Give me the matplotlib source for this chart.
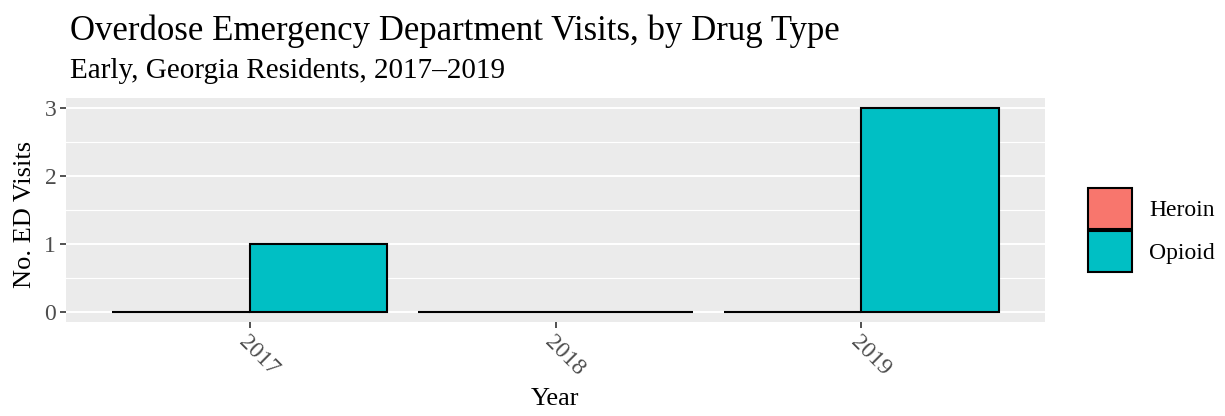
import numpy as np
import matplotlib
matplotlib.use('Agg')
import matplotlib.pyplot as plt
from matplotlib.patches import Patch

plt.rcParams['font.family'] = ['Liberation Serif', 'DejaVu Serif']

years = ['2017', '2018', '2019']
drugs = ['Heroin', 'Opioid']
heroin = [0, 0, 0]
opioid = [1, 0, 3]
colors = {'Heroin': '#F8766D', 'Opioid': '#00BFC4'}

W, H = 1225, 416
fig = plt.figure(figsize=(W / 100, H / 100), dpi=100)
ax = fig.add_axes([66 / W, 1 - 322 / H, (1045 - 66) / W, (322 - 98) / H])
ax.set_facecolor('#EBEBEB')

x = np.arange(len(years)) + 1
bw = 0.45
for i, (name, vals) in enumerate(zip(drugs, [heroin, opioid])):
    ax.bar(x + (i - 0.5) * bw, vals, width=bw, color=colors[name],
           edgecolor='black', linewidth=1.5, zorder=3)

ax.set_xlim(0.4, 3.6)
ax.set_ylim(-0.15, 3.15)
ax.set_yticks([0, 1, 2, 3])
ax.set_yticks([0.5, 1.5, 2.5], minor=True)
ax.grid(axis='y', which='major', color='white', linewidth=1.4, zorder=0)
ax.grid(axis='y', which='minor', color='white', linewidth=0.8, zorder=0)
ax.set_axisbelow(True)
ax.set_xticks(x)
ax.set_xticklabels(years, rotation=-45, ha='left', va='top', rotation_mode='anchor')
for s in ax.spines.values():
    s.set_visible(False)
ax.tick_params(axis='both', which='major', length=4, width=1.2, color='#333333',
               labelcolor='#4D4D4D', labelsize=17, pad=3)
ax.tick_params(axis='y', which='minor', length=0)

fig.text(70 / W, 1 - 40 / H, 'Overdose Emergency Department Visits, by Drug Type',
         fontsize=25, va='baseline', ha='left')
fig.text(70 / W, 1 - 78 / H, 'Early, Georgia Residents, 2017\u20132019',
         fontsize=21, va='baseline', ha='left')
fig.text(25 / W, 1 - 214 / H, 'No. ED Visits', fontsize=19, rotation=90,
         ha='center', va='center')
fig.text(555 / W, 1 - 399 / H, 'Year', fontsize=19, ha='center', va='center')

handles = [Patch(facecolor=colors[d], edgecolor='black', linewidth=1.5) for d in drugs]
fig.legend(handles, drugs, loc='center left', bbox_to_anchor=(1088 / W, 1 - 230 / H),
           frameon=False, fontsize=17, handlelength=1.85, handleheight=2.3,
           labelspacing=0.1, handletextpad=0.75, borderaxespad=0, borderpad=0)

fig.savefig('out.png', dpi=100)
